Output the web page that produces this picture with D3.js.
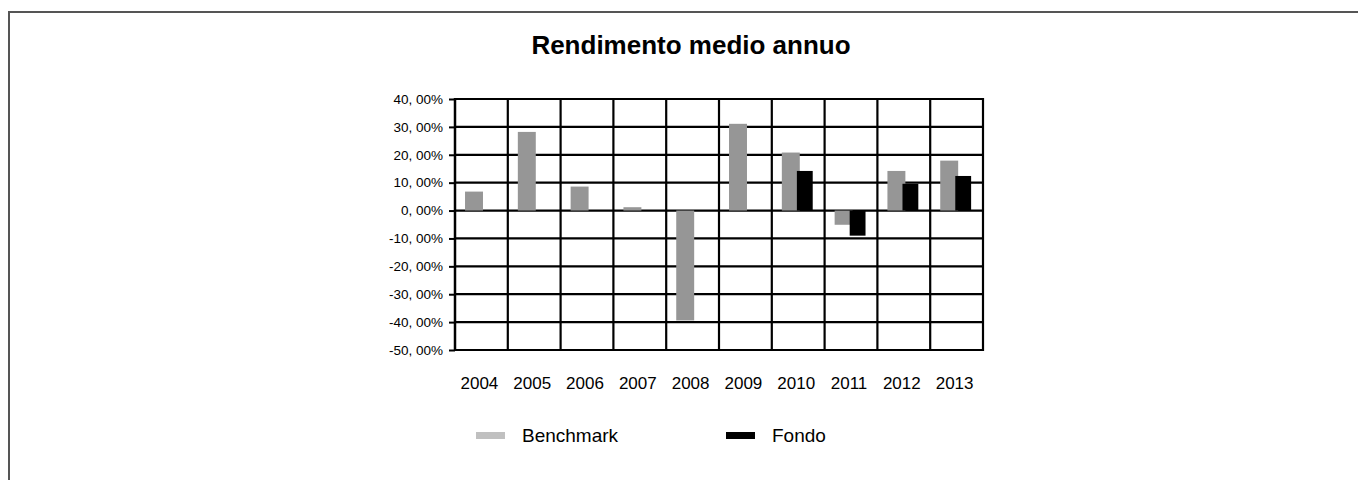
<!DOCTYPE html>
<html>
<head>
<meta charset="utf-8">
<script src="https://cdn.jsdelivr.net/npm/d3@7"></script>
<style>
	body { margin: 0; background: #fff; }
	text { font-family: "Liberation Sans", Arial, sans-serif; }
</style>
</head>
<body>
<div id="chart"></div>
<script>
// dati
var years = ['2004','2005','2006','2007','2008','2009','2010','2011','2012','2013'];
var benchmark = [6.8, 28.2, 8.6, 1.2, -39.4, 31.1, 20.8, -5.1, 14.2, 17.9];
var fondo = [null, null, null, null, null, null, 14.2, -9.0, 9.6, 12.4];
var yTicks = [40, 30, 20, 10, 0, -10, -20, -30, -40, -50];
var yTickLabels = ['40, 00%','30, 00%','20, 00%','10, 00%','0, 00%','-10, 00%','-20, 00%','-30, 00%','-40, 00%','-50, 00%'];
var seriesNames = ['Benchmark', 'Fondo'];

window.onload = function () {
	var W = 1358, H = 480,
		plot = {left: 455, right: 983, top: 99, bottom: 350};

	var svg = d3.select('#chart')
		.append('svg')
			.attr('width', W)
			.attr('height', H);

	// cornice esterna (solo lato sinistro e alto visibili)
	svg.append('path')
		.attr('d', 'M9,' + H + 'V12H' + W)
		.attr('fill', 'none')
		.attr('stroke', '#555')
		.attr('stroke-width', 2);

	svg.append('text')
		.attr('x', 691)
		.attr('y', 54)
		.attr('text-anchor', 'middle')
		.style('font-size', '26px')
		.style('font-weight', 'bold')
		.text('Rendimento medio annuo');

	var x = d3.scaleBand()
		.domain(years)
		.range([plot.left, plot.right])
		.padding(0);

	var y = d3.scaleLinear()
		.domain([-50, 40])
		.range([plot.bottom, plot.top]);

	var bw = x.bandwidth();

	// griglia orizzontale + asse y
	var yAxis = d3.axisLeft(y)
		.tickValues(yTicks)
		.tickFormat(function (d, i) { return yTickLabels[i]; })
		.tickSize(6)
		.tickPadding(6);

	var gy = svg.append('g')
		.attr('transform', 'translate(' + plot.left + ',0)')
		.call(yAxis);
	gy.select('.domain').remove();
	gy.selectAll('line').attr('stroke', '#000').attr('stroke-width', 2);
	gy.selectAll('text')
		.style('font-family', '"Liberation Sans", Arial, sans-serif')
		.style('font-size', '13.5px')
		.attr('fill', '#000');

	svg.append('g').selectAll('line')
		.data(yTicks)
		.enter().append('line')
			.attr('x1', plot.left)
			.attr('x2', plot.right)
			.attr('y1', function (d) { return y(d); })
			.attr('y2', function (d) { return y(d); })
			.attr('stroke', '#000')
			.attr('stroke-width', 2.2);

	// linee verticali tra le categorie
	var edges = years.map(function (d) { return x(d); }).concat([plot.right]);
	svg.append('g').selectAll('line')
		.data(edges)
		.enter().append('line')
			.attr('x1', function (d) { return d; })
			.attr('x2', function (d) { return d; })
			.attr('y1', plot.top - 1)
			.attr('y2', plot.bottom + 1)
			.attr('stroke', '#000')
			.attr('stroke-width', function (d, i) { return i === 0 ? 2.5 : 2.2; });

	// barre
	svg.append('g').selectAll('rect')
		.data(benchmark)
		.enter().append('rect')
			.attr('x', function (d, i) { return x(years[i]) + bw * 0.19; })
			.attr('width', bw * 0.34)
			.attr('y', function (d) { return y(Math.max(0, d)); })
			.attr('height', function (d) { return Math.abs(y(d) - y(0)); })
			.attr('fill', '#969696');

	svg.append('g').selectAll('rect')
		.data(fondo.map(function (v, i) { return {v: v, year: years[i]}; })
			.filter(function (d) { return d.v !== null; }))
		.enter().append('rect')
			.attr('x', function (d) { return x(d.year) + bw * 0.475; })
			.attr('width', bw * 0.3)
			.attr('y', function (d) { return y(Math.max(0, d.v)); })
			.attr('height', function (d) { return Math.abs(y(d.v) - y(0)); })
			.attr('fill', '#000');

	// etichette anni
	var xAxis = d3.axisBottom(x).tickSize(0).tickPadding(0);
	var gx = svg.append('g')
		.attr('transform', 'translate(-2,377)')
		.call(xAxis);
	gx.select('.domain').remove();
	gx.selectAll('text')
		.style('font-family', '"Liberation Sans", Arial, sans-serif')
		.style('font-size', '17px')
		.attr('fill', '#000');

	// legenda
	var legColors = ['#c0c0c0', '#000'];
	var legX = [476, 726];
	var leg = svg.append('g').selectAll('g')
		.data(seriesNames)
		.enter().append('g')
			.attr('transform', function (d, i) { return 'translate(' + legX[i] + ',432)'; });
	leg.append('rect')
		.attr('width', 29)
		.attr('height', 7)
		.attr('fill', function (d, i) { return legColors[i]; });
	leg.append('text')
		.attr('x', 46)
		.attr('y', 10)
		.style('font-size', '19px')
		.text(function (d) { return d; });
};
</script>
</body>
</html>
